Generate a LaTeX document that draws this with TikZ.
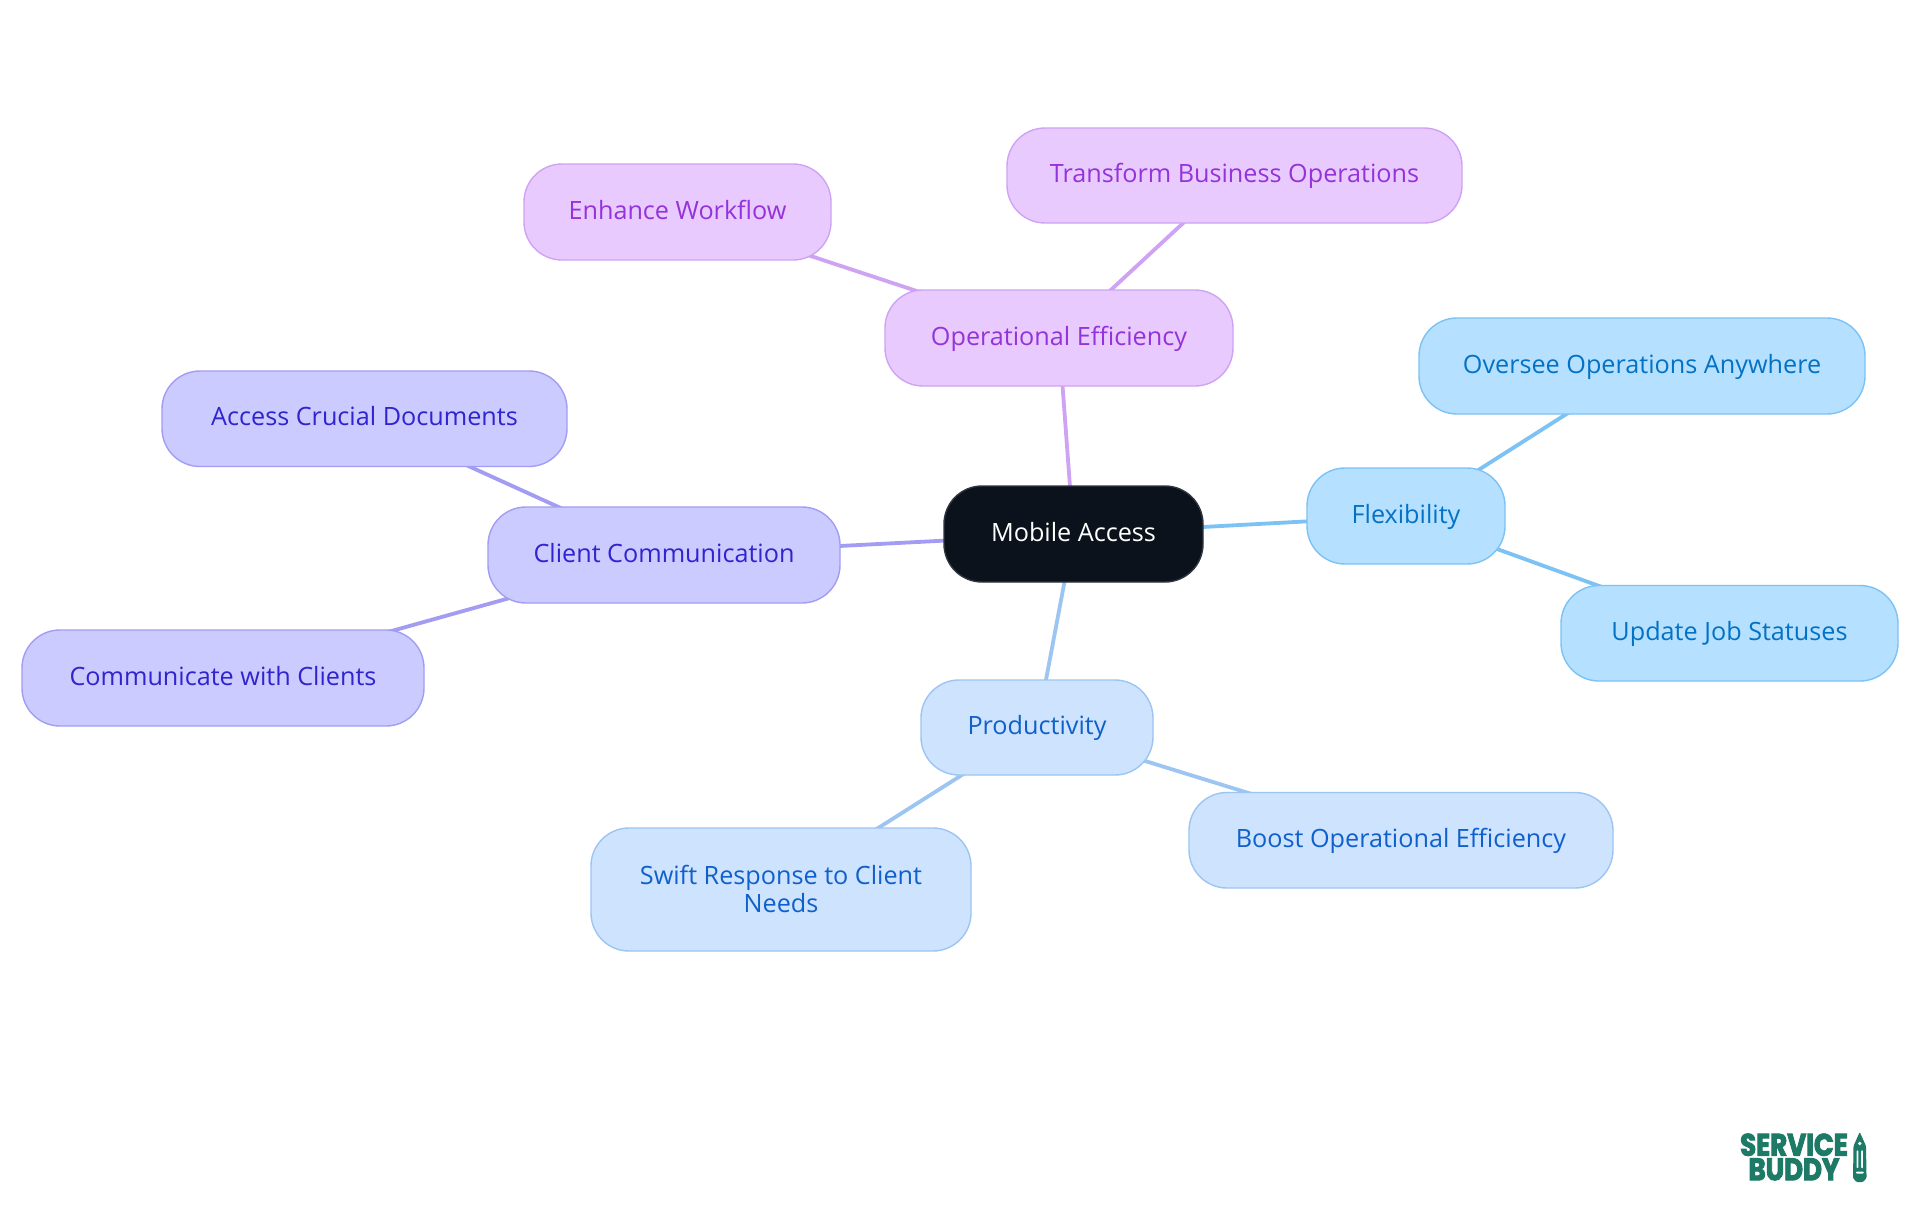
\documentclass[tikz,border=0pt]{standalone}
\usepackage{fontspec}
\setmainfont{Open Sans}
\newfontfamily\logofont[FakeStretch=0.84,BoldFeatures={FakeBold=3}]{Poppins}
\usetikzlibrary{backgrounds}
\definecolor{cpf}{HTML}{E9CAFF}\definecolor{cpd}{HTML}{CFA3F3}\definecolor{cpt}{HTML}{9333D9}
\definecolor{cvf}{HTML}{CBCBFF}\definecolor{cvd}{HTML}{A29DF2}\definecolor{cvt}{HTML}{3024CE}
\definecolor{cbf}{HTML}{B5E0FF}\definecolor{cbd}{HTML}{7CC2F5}\definecolor{cbt}{HTML}{0472C4}
\definecolor{cmf}{HTML}{CEE3FD}\definecolor{cmd}{HTML}{9CC5F2}\definecolor{cmt}{HTML}{0F60CC}
\definecolor{cdk}{HTML}{0B121B}\definecolor{clogo}{HTML}{1C7A66}
\tikzset{
 mm/.style={draw,line width=1.4pt,rounded corners=38pt,inner sep=0pt,align=center,font=\fontsize{25.2}{28}\selectfont},
 pp/.style={mm,fill=cpf,draw=cpd,text=cpt},
 vv/.style={mm,fill=cvf,draw=cvd,text=cvt},
 bb/.style={mm,fill=cbf,draw=cbd,text=cbt},
 nn/.style={mm,fill=cmf,draw=cmd,text=cmt},
 rootbox/.style={mm,fill=cdk,draw=cdk!85!white,text=white},
 link/.style={line width=3.8pt},
 logotext/.style={text=clogo,inner sep=0pt,align=center,font=\logofont\bfseries\fontsize{31}{24.5}\selectfont}
}
\newcommand{\bx}[6]{\node[#1,text height=20pt,text depth=6pt,minimum width=#4-#3,minimum height=#6-#5] (#2) at ({(#3+#4)/2},{(#5+#6)/2}) }
\begin{document}
\begin{tikzpicture}[x=1pt,y=-1pt]
\useasboundingbox (0,0) rectangle (1920,1215);
\bx{rootbox}{root}{944}{1203}{486}{582} {Mobile Access};
\bx{pp}{oe}{885}{1233}{290}{386} {Operational Efficiency};
\bx{pp}{tb}{1007}{1462}{128}{223} {Transform Business Operations};
\bx{pp}{ew}{524}{831}{164}{260} {Enhance Workflow};
\bx{vv}{cc}{488}{840}{507}{603} {Client Communication};
\bx{vv}{ac}{162}{567}{371}{466.5} {Access Crucial Documents};
\bx{vv}{cw}{22}{424}{630}{726} {Communicate with Clients};
\bx{bb}{fx}{1307}{1505}{468}{564} {Flexibility};
\bx{bb}{oo}{1419}{1865}{318}{414} {Oversee Operations Anywhere};
\bx{bb}{uj}{1561}{1898}{585.5}{681} {Update Job Statuses};
\bx{nn}{pr}{921}{1153}{680}{775} {Productivity};
\bx{nn}{bo}{1189}{1613}{792.5}{888} {Boost Operational Efficiency};
\node[nn,minimum width=380,minimum height=123] (sr) at (781,889.5) {Swift Response to Client\\Needs\rule[-2pt]{0pt}{0pt}};
\begin{scope}[on background layer]
\fill[white] (0,0) rectangle (1920,1215);
\draw[link,cpd] (root.center)--(oe.center);
\draw[link,cpd] (oe.center)--(tb.center);
\draw[link,cpd] (oe.center)--(ew.center);
\draw[link,cvd] (root.center)--(cc.center);
\draw[link,cvd] (cc.center)--(ac.center);
\draw[link,cvd] (cc.center)--(cw.center);
\draw[link,cbd] (root.center)--(fx.center);
\draw[link,cbd] (fx.center)--(oo.center);
\draw[link,cbd] (fx.center)--(uj.center);
\draw[link,cmd] (root.center)--(pr.center);
\draw[link,cmd] (pr.center)--(bo.center);
\draw[link,cmd] (pr.center)--(sr.center);
\end{scope}
% logo
\node[logotext] (logo) at (1794,1157) {SERVICE\\BUDDY};
\fill[clogo,even odd rule,rounded corners=1pt] (1853.5,1146)--(1859.7,1132)--(1866,1146)--(1866.5,1175)--(1866.5,1178)--(1863,1182)--(1856.5,1182)--(1853,1178)--cycle
 (1856.5,1150) rectangle (1858.4,1168.5) (1861,1150) rectangle (1863,1168.5) (1855.5,1171.5) rectangle (1864,1173.5);
\fill[white] (1859.7,1143.5) circle (1.9);
\end{tikzpicture}
\end{document}
